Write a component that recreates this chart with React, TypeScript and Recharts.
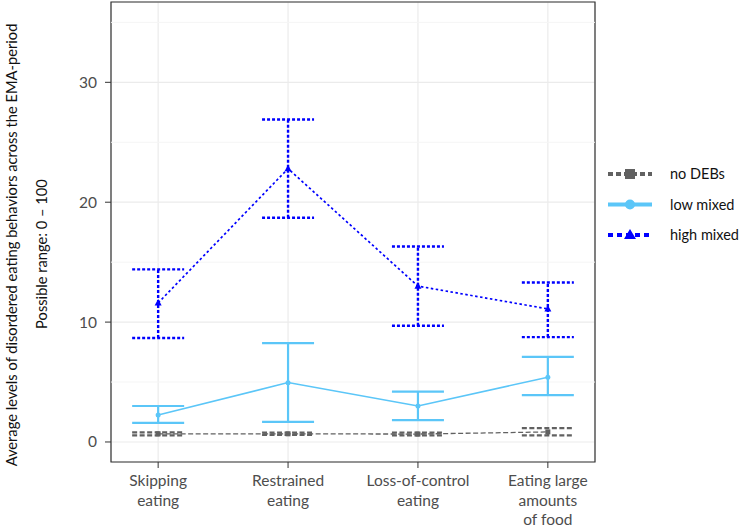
import { ComposedChart, Line, XAxis, YAxis, CartesianGrid, ErrorBar, ReferenceLine, ReferenceArea } from "recharts";

const categories = [
  ["Skipping", "eating"],
  ["Restrained", "eating"],
  ["Loss-of-control", "eating"],
  ["Eating large", "amounts", "of food"],
];

// no DEBs
const noDebs = [0.68, 0.68, 0.66, 0.84];
const noDebsLow = [0.55, 0.6, 0.55, 0.55];
const noDebsHigh = [0.8, 0.78, 0.78, 1.15];

// low mixed
const lowMixed = [2.25, 4.95, 3.0, 5.4];
const lowMixedLow = [1.6, 1.67, 1.83, 3.9];
const lowMixedHigh = [3.0, 8.25, 4.2, 7.1];

// high mixed
const highMixed = [11.6, 22.8, 13.0, 11.1];
const highMixedLow = [8.67, 18.7, 9.7, 8.75];
const highMixedHigh = [14.4, 26.9, 16.3, 13.3];

const yTicks = [0, 10, 20, 30];
const yMinor = [5, 15, 25, 35];

const GRAY = "#616161";
const LIGHT = "#5BC6F8";
const BLUE = "#0000FF";
const FONT = "Lato, 'Open Sans', sans-serif";

const data = categories.map((_, i) => ({
  x: i + 1,
  none: noDebs[i],
  noneErr: [noDebs[i] - noDebsLow[i], noDebsHigh[i] - noDebs[i]],
  low: lowMixed[i],
  lowErr: [lowMixed[i] - lowMixedLow[i], lowMixedHigh[i] - lowMixed[i]],
  high: highMixed[i],
  highErr: [highMixed[i] - highMixedLow[i], highMixedHigh[i] - highMixed[i]],
}));

const SquareDot = (props: any) => {
  const { cx, cy } = props;
  return <rect x={cx - 2.5} y={cy - 2.5} width={5} height={5} fill={GRAY} />;
};

const CircleDot = (props: any) => {
  const { cx, cy } = props;
  return <circle cx={cx} cy={cy} r={2.5} fill={LIGHT} />;
};

const TriangleDot = (props: any) => {
  const { cx, cy } = props;
  return <path d={`M${cx},${cy - 4} L${cx + 3.5},${cy + 2.5} L${cx - 3.5},${cy + 2.5} Z`} fill={BLUE} />;
};

const XTick = (props: any) => {
  const { x, y, payload } = props;
  const lines = categories[payload.value - 1] || [];
  return (
    <text x={x} y={y} textAnchor="middle" fill="#4d4d4d" fontSize={15.5} fontFamily={FONT}>
      {lines.map((l, i) => (
        <tspan key={i} x={x} y={y + 16 + i * 19.5}>
          {l}
        </tspan>
      ))}
    </text>
  );
};

const legendItems = [
  { name: "no DEBs", color: GRAY, dash: "5 3", shape: "square" },
  { name: "low mixed", color: LIGHT, dash: undefined, shape: "circle" },
  { name: "high mixed", color: BLUE, dash: "5 4", shape: "triangle" },
];

export default function App() {
  return (
    <div style={{ position: "absolute", left: 0, top: 0, width: 744, height: 530, background: "#fff" }}>
      <ComposedChart width={744} height={530} data={data} margin={{ top: 2, right: 149, bottom: 0, left: 51 }}>
        <CartesianGrid stroke="#ebebeb" strokeWidth={1.2} />
        {yMinor.map((v) => (
          <ReferenceLine key={v} y={v} stroke="#f5f5f5" strokeWidth={1} />
        ))}
        <XAxis
          dataKey="x"
          type="number"
          domain={[0.637, 4.363]}
          ticks={[1, 2, 3, 4]}
          tick={<XTick />}
          tickLine={{ stroke: "#333" }}
          tickSize={6}
          axisLine={false}
          height={68}
          interval={0}
          allowDataOverflow
        />
        <YAxis
          type="number"
          domain={[-1.67, 36.7]}
          ticks={yTicks}
          tick={{ fill: "#4d4d4d", fontSize: 15.5, fontFamily: FONT }}
          tickLine={{ stroke: "#333" }}
          tickSize={6}
          tickMargin={8}
          axisLine={false}
          width={60}
          allowDataOverflow
        />
        <ReferenceArea x1={0.637} x2={4.363} y1={-1.67} y2={36.7} fill="none" stroke="#333" strokeWidth={1.2} fillOpacity={0} />
        <Line
          dataKey="none"
          stroke={GRAY}
          strokeWidth={1.3}
          strokeDasharray="5 2.5"
          dot={<SquareDot />}
          isAnimationActive={false}
        >
          <ErrorBar dataKey="noneErr" direction="y" width={26} stroke={GRAY} strokeWidth={2.2} strokeDasharray="5 2.5" />
        </Line>
        <Line dataKey="low" stroke={LIGHT} strokeWidth={1.5} dot={<CircleDot />} isAnimationActive={false}>
          <ErrorBar dataKey="lowErr" direction="y" width={26} stroke={LIGHT} strokeWidth={2.2} />
        </Line>
        <Line
          dataKey="high"
          stroke={BLUE}
          strokeWidth={1.7}
          strokeDasharray="2.5 2.5"
          dot={<TriangleDot />}
          isAnimationActive={false}
        >
          <ErrorBar dataKey="highErr" direction="y" width={26} stroke={BLUE} strokeWidth={2.4} strokeDasharray="3 2" />
        </Line>
      </ComposedChart>
      <svg width={744} height={530} style={{ position: "absolute", left: 0, top: 0, pointerEvents: "none" }}>
        <text
          transform="translate(17,245) rotate(-90)"
          textAnchor="middle"
          fontSize={14.7}
          fontFamily={FONT}
          fill="#111"
        >
          Average levels of disordered eating behaviors across the EMA-period
        </text>
        <text
          transform="translate(47,254) rotate(-90)"
          textAnchor="middle"
          fontSize={14.7}
          fontFamily={FONT}
          fill="#111"
        >
          Possible range: 0 – 100
        </text>
        {legendItems.map((it, i) => {
          const y = 174 + i * 30.5;
          return (
            <g key={it.name}>
              <line x1={608} x2={652} y1={y} y2={y} stroke={it.color} strokeWidth={4} strokeDasharray={it.dash} />
              {it.shape === "square" && <rect x={625} y={y - 5} width={10} height={10} fill={it.color} />}
              {it.shape === "circle" && <circle cx={630} cy={y} r={5} fill={it.color} />}
              {it.shape === "triangle" && (
                <path d={`M630,${y - 6} L636,${y + 4} L624,${y + 4} Z`} fill={it.color} />
              )}
              <text x={670} y={y + 5} fontSize={14.5} fontFamily={FONT} fill="#111">
                {it.name}
              </text>
            </g>
          );
        })}
      </svg>
    </div>
  );
}
